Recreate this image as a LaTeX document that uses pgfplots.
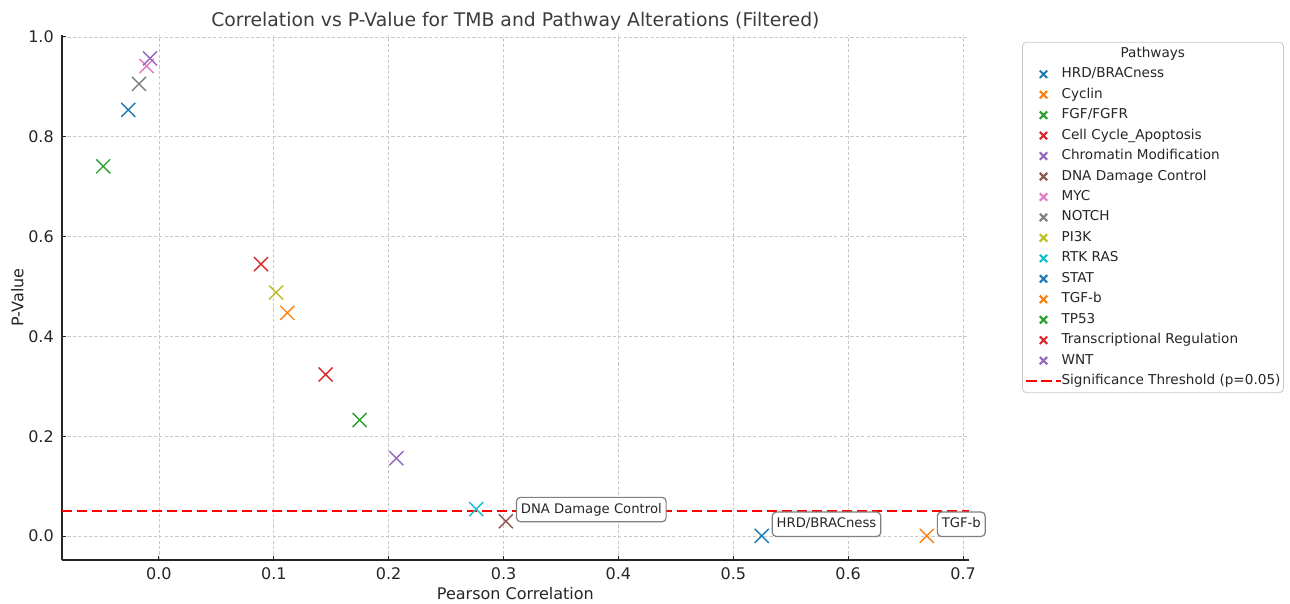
\documentclass[border=0pt]{standalone}
\usepackage{pgfplots}
\pgfplotsset{compat=1.18}
\usepackage{fontspec}
\setmainfont{DejaVu Sans}
\definecolor{tblue}{HTML}{1F77B4}
\definecolor{torange}{HTML}{FF7F0E}
\definecolor{tgreen}{HTML}{2CA02C}
\definecolor{tred}{HTML}{D62728}
\definecolor{tpurple}{HTML}{9467BD}
\definecolor{tbrown}{HTML}{8C564B}
\definecolor{tpink}{HTML}{E377C2}
\definecolor{tgray}{HTML}{7F7F7F}
\definecolor{tolive}{HTML}{BCBD22}
\definecolor{tcyan}{HTML}{17BECF}
\definecolor{txt}{HTML}{262626}
\definecolor{gridc}{HTML}{C8C8C8}
\pgfplotsset{
  sc/.style={mark=x, mark size=4.95pt, draw opacity=0, mark options={draw opacity=1, line width=0.7pt}},
}
\begin{document}
\begin{tikzpicture}
\path[use as bounding box] (-31pt,-22pt) rectangle (614pt,280pt);
\begin{axis}[
  scale only axis,
  width=453.4pt, height=262.7pt,
  xmin=-0.0844, xmax=0.705,
  ymin=-0.0478, ymax=1.0048,
  axis x line*=bottom, axis y line*=left,
  axis line style={line width=0.6pt, color=txt},
  xtick={0,0.1,...,0.7}, ytick={0,0.2,...,1.0},
  tick align=inside,
  major tick length=2.2pt,
  tick style={line width=0.5pt, color=txt},
  /pgf/number format/fixed,
  /pgf/number format/fixed zerofill,
  /pgf/number format/precision=1,
  /pgf/number format/assume math mode=true,
  ticklabel style={font=\fontsize{8}{9.6}\selectfont, color=txt},
  xticklabel style={yshift=-0.2pt},
  yticklabel style={xshift=-0.6pt},
  grid=major,
  major grid style={gridc, line width=0.45pt, dash pattern=on 1.6pt off 1.1pt},
  title={Correlation vs P-Value for TMB and Pathway Alterations (Filtered)},
  every axis title/.style={at={(axis description cs:0.5,1.0147)}, anchor=base, font=\fontsize{9.4}{11}\selectfont, color=txt!90},
  xlabel={Pearson Correlation},
  ylabel={P-Value},
  every axis x label/.style={at={(axis description cs:0.5,-0.0761)}, anchor=base, font=\fontsize{8}{9.6}\selectfont, color=txt},
  every axis y label/.style={at={(axis description cs:-0.0425,0.5)}, anchor=base, rotate=90, font=\fontsize{8}{9.6}\selectfont, color=txt},
  legend style={at={(1.0587,0.9861)}, anchor=north west, draw=gridc, rounded corners=2pt, fill=white,
    font=\fontsize{6.8}{8}\selectfont, text=txt, inner xsep=1.5pt, inner ysep=2.5pt,
    row sep=3.73pt, column sep=0pt,
    nodes={inner sep=0pt, text height=5pt, text depth=1.5pt}},
  legend cell align=left,
  legend image post style={mark size=2.6pt, mark options={draw opacity=1, line width=1.05pt}},
  clip=false,
]
\addlegendimage{empty legend}\addlegendentry{\hspace{29.5pt}Pathways}
\addplot[sc, tblue] coordinates {(0.5247,0.0005)}; \addlegendentry{HRD/BRACness}
\addplot[sc, torange] coordinates {(0.1117,0.4475)}; \addlegendentry{Cyclin}
\addplot[sc, tgreen] coordinates {(0.1747,0.2325)}; \addlegendentry{FGF/FGFR}
\addplot[sc, tred] coordinates {(0.1451,0.3240)}; \addlegendentry{Cell Cycle\_Apoptosis}
\addplot[sc, tpurple] coordinates {(0.2066,0.1560)}; \addlegendentry{Chromatin Modification}
\addplot[sc, tbrown] coordinates {(0.3020,0.0300)}; \addlegendentry{DNA Damage Control}
\addplot[sc, tpink] coordinates {(-0.0107,0.9420)}; \addlegendentry{MYC}
\addplot[sc, tgray] coordinates {(-0.0174,0.9060)}; \addlegendentry{NOTCH}
\addplot[sc, tolive] coordinates {(0.1020,0.4880)}; \addlegendentry{PI3K}
\addplot[sc, tcyan] coordinates {(0.2762,0.0540)}; \addlegendentry{RTK RAS}
\addplot[sc, tblue] coordinates {(-0.0267,0.8540)}; \addlegendentry{STAT}
\addplot[sc, torange] coordinates {(0.6684,0.0005)}; \addlegendentry{TGF-b}
\addplot[sc, tgreen] coordinates {(-0.0485,0.7410)}; \addlegendentry{TP53}
\addplot[sc, tred] coordinates {(0.0888,0.5450)}; \addlegendentry{Transcriptional Regulation}
\addplot[sc, tpurple] coordinates {(-0.0078,0.9570)}; \addlegendentry{WNT}
\addplot[red, no marks, sharp plot, line width=1pt, dash pattern=on 5.2pt off 2.3pt] coordinates {(-0.0844,0.05) (0.705,0.05)};
\addlegendentry{Significance Threshold (p=0.05)}
\begin{scope}[every node/.style={anchor=south west, draw=gray, line width=0.6pt, rounded corners=2pt, fill=white, text=txt,
   font=\fontsize{6.6}{7.5}\selectfont, inner xsep=2.2pt, inner ysep=2.9pt, text height=5pt, text depth=1.4pt, xshift=5pt, yshift=-0.6pt}]
\node at (axis cs:0.3020,0.0300) {DNA Damage Control};
\node at (axis cs:0.5247,0.0005) {HRD/BRACness};
\node at (axis cs:0.6684,0.0005) {TGF-b};
\end{scope}
\end{axis}
\end{tikzpicture}
\end{document}
